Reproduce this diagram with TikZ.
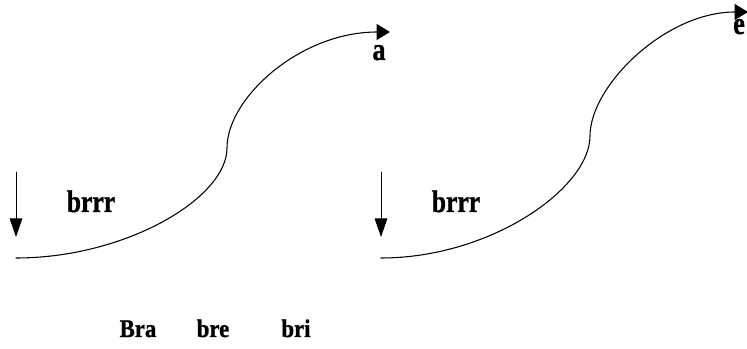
\documentclass[tikz,border=0pt]{standalone}
\usepackage{fontspec}
\setmainfont{Liberation Serif}[BoldFeatures={FakeBold=1.2}]
\usetikzlibrary{arrows.meta}
\tikzset{
  wave/.style={line width=.8pt,-{Triangle[length=10pt,width=12pt]}},
  drop/.style={line width=.7pt,-{Triangle[length=14pt,width=9.5pt]}},
  tag/.style={font=\bfseries\fontsize{23.5}{26}\selectfont,inner sep=0pt,anchor=base,xscale=.82},
  endtag/.style={font=\bfseries\fontsize{24}{28}\selectfont,inner sep=0pt,anchor=base,xscale=.82},
  foot/.style={font=\bfseries\fontsize{19}{22}\selectfont,inner sep=0pt,anchor=base,xscale=.9}
}

\begin{document}
\begin{tikzpicture}[x=.75pt,y=-.75pt,line cap=round,line join=round]
  \useasboundingbox (0,0) rectangle (747,349);

  % left panel
  \coordinate (S1) at (16,258);
  \coordinate (M1) at (227,148);
  \coordinate (E1) at (390,32);
  \coordinate (U1) at (16,172);
  \coordinate (D1) at (16,237);
  \draw[wave] (S1) .. controls (126,258) and (227,198) .. (M1)
    .. controls (227,98) and (300,32) .. (E1);
  \draw[drop] (U1) -- (D1);
  \node[tag] (r1) at (91,212) {brrr};
  \node[endtag] (a) at (379,60) {a};

  % right panel
  \coordinate (S2) at (381,258);
  \coordinate (M2) at (590,136);
  \coordinate (E2) at (748,12);
  \coordinate (U2) at (381,172);
  \coordinate (D2) at (381,237);
  \draw[wave] (S2) .. controls (491,258) and (590,188) .. (M2)
    .. controls (590,86) and (665,12) .. (E2);
  \draw[drop] (U2) -- (D2);
  \node[tag] (r2) at (456,212) {brrr};
  \node[endtag] (e) at (739,34) {e};

  % bottom row
  \node[foot] (bra) at (138,337) {Bra};
  \node[foot] (bre) at (213,337) {bre};
  \node[foot] (bri) at (296,337) {bri};
\end{tikzpicture}
\end{document}
